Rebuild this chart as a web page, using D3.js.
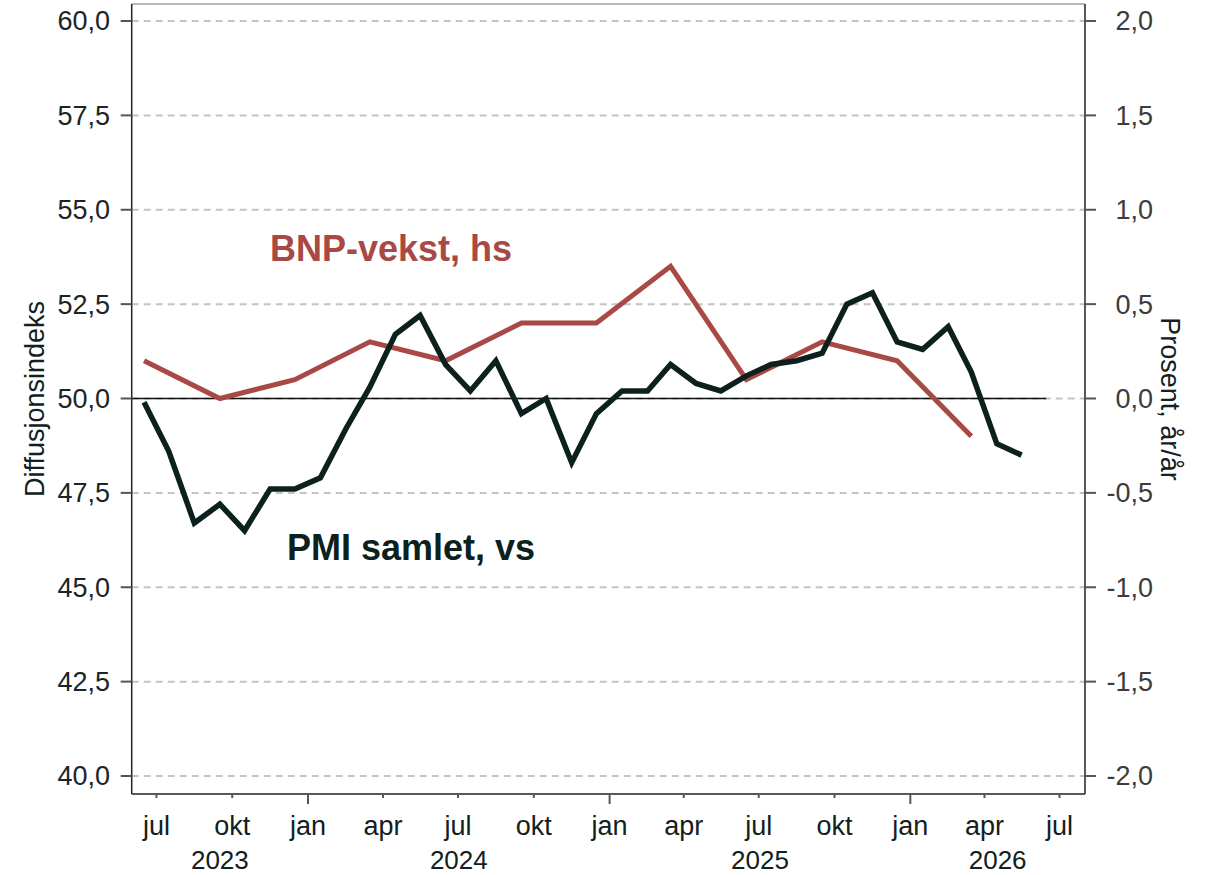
<!DOCTYPE html>
<html>
<head>
<meta charset="utf-8">
<script src="https://cdn.jsdelivr.net/npm/d3@7"></script>
<style>
  html, body { margin: 0; padding: 0; background: #fff; }
  svg { display: block; font-family: "Liberation Sans", Arial, sans-serif; }
</style>
</head>
<body>
<svg id="chart" width="1212" height="875"></svg>
<script>
// ---------------- data ----------------
const pmiDates = [
  "2023-06","2023-07","2023-08","2023-09","2023-10","2023-11","2023-12",
  "2024-01","2024-02","2024-03","2024-04","2024-05","2024-06","2024-07","2024-08","2024-09","2024-10","2024-11","2024-12",
  "2025-01","2025-02","2025-03","2025-04","2025-05","2025-06","2025-07","2025-08","2025-09","2025-10","2025-11","2025-12",
  "2026-01","2026-02","2026-03","2026-04","2026-05"
];
const pmiValues = [
  49.9, 48.6, 46.7, 47.2, 46.5, 47.6, 47.6,
  47.9, 49.2, 50.3, 51.7, 52.2, 50.9, 50.2, 51.0, 49.6, 50.0, 48.3, 49.6,
  50.2, 50.2, 50.9, 50.4, 50.2, 50.6, 50.9, 51.0, 51.2, 52.5, 52.8, 51.5,
  51.3, 51.9, 50.7, 48.8, 48.5
];
const gdpDates = ["2023-06","2023-09","2023-12","2024-03","2024-06","2024-09","2024-12","2025-03","2025-06","2025-09","2025-12","2026-03"];
const gdpValues = [0.2, 0.0, 0.1, 0.3, 0.2, 0.4, 0.4, 0.7, 0.1, 0.3, 0.2, -0.2];

const leftTicks = [40, 42.5, 45, 47.5, 50, 52.5, 55, 57.5, 60];
const rightTicks = [-2, -1.5, -1, -0.5, 0, 0.5, 1, 1.5, 2];
const monthNames = {0: "jan", 3: "apr", 6: "jul", 9: "okt"};
const years = [2023, 2024, 2025, 2026];
const xDomain = ["2023-06-01", "2026-08-01"];
const zeroLineEnd = "2026-06-15";

const leftTitle = "Diffusjonsindeks";
const rightTitle = "Prosent, år/år";
const pmiLabel = "PMI samlet, vs";
const gdpLabel = "BNP-vekst, hs";

// ---------------- layout ----------------
const L = 131.7, R = 1085, T = 4, B = 794;
const yTop = 21, yBot = 776;
const pmiColor = "#0c201d", gdpColor = "#a84946";
const fontSize = 27;

const parseMonth = s => { const [y, m] = s.split("-").map(Number); return new Date(y, m - 1, 16); };
const parseDay = s => { const [y, m, d] = s.split("-").map(Number); return new Date(y, m - 1, d); };

const x = d3.scaleTime().domain(xDomain.map(parseDay)).range([L, R]);
const yL = d3.scaleLinear().domain([40, 60]).range([yBot, yTop]);
const yR = d3.scaleLinear().domain([-2, 2]).range([yBot, yTop]);

const svg = d3.select("#chart");
const fmt = v => d3.format(".1f")(v).replace(".", ",").replace("−", "-");

// grid lines
svg.append("g").selectAll("line").data(leftTicks).join("line")
  .attr("x1", L).attr("x2", R)
  .attr("y1", d => yL(d)).attr("y2", d => yL(d))
  .attr("stroke", "#c4c4c4").attr("stroke-width", 2).attr("stroke-dasharray", "7,5");

// zero line
svg.append("line")
  .attr("x1", L).attr("x2", x(parseDay(zeroLineEnd)))
  .attr("y1", yL(50)).attr("y2", yL(50))
  .attr("stroke", "#111").attr("stroke-width", 1.6);

// frame
svg.append("line").attr("x1", L).attr("x2", R).attr("y1", T).attr("y2", T).attr("stroke", "#a0a0a0").attr("stroke-width", 1.5);
svg.append("line").attr("x1", L).attr("x2", R).attr("y1", B).attr("y2", B).attr("stroke", "#222").attr("stroke-width", 1.5);
svg.append("line").attr("x1", L).attr("x2", L).attr("y1", T).attr("y2", B).attr("stroke", "#222").attr("stroke-width", 1.5);
svg.append("line").attr("x1", R).attr("x2", R).attr("y1", T).attr("y2", B).attr("stroke", "#222").attr("stroke-width", 1.5);

// left axis ticks + labels
const gL = svg.append("g");
gL.selectAll("line").data(leftTicks).join("line")
  .attr("x1", L - 11).attr("x2", L).attr("y1", d => yL(d)).attr("y2", d => yL(d))
  .attr("stroke", "#555").attr("stroke-width", 2);
gL.selectAll("text").data(leftTicks).join("text")
  .attr("x", 110).attr("y", d => yL(d)).attr("dy", "0.35em")
  .attr("text-anchor", "end").attr("font-size", fontSize).attr("fill", "#1a2626")
  .text(fmt);

// right axis ticks + labels
const gR = svg.append("g");
gR.selectAll("line").data(rightTicks).join("line")
  .attr("x1", R).attr("x2", R + 11).attr("y1", d => yR(d)).attr("y2", d => yR(d))
  .attr("stroke", "#555").attr("stroke-width", 2);
gR.selectAll("text").data(rightTicks).join("text")
  .attr("x", 1153).attr("y", d => yR(d)).attr("dy", "0.35em")
  .attr("text-anchor", "end").attr("font-size", fontSize).attr("fill", "#3c3c3c")
  .text(fmt);

// x axis ticks (quarterly)
const qTicks = d3.timeMonth.every(3).range(parseDay(xDomain[0]), parseDay(xDomain[1]))
  .filter(d => d.getMonth() % 3 === 0);
const gX = svg.append("g");
gX.selectAll("line").data(qTicks).join("line")
  .attr("x1", d => x(d)).attr("x2", d => x(d))
  .attr("y1", B + 1).attr("y2", d => B + (d.getMonth() === 0 ? 10 : 4))
  .attr("stroke", "#555").attr("stroke-width", 2);
gX.selectAll("text").data(qTicks).join("text")
  .attr("x", d => x(d)).attr("y", 835)
  .attr("text-anchor", "middle").attr("font-size", fontSize).attr("fill", "#122020")
  .text(d => monthNames[d.getMonth()]);

// year labels centered on visible part of year
svg.append("g").selectAll("text").data(years).join("text")
  .attr("x", yr => {
    const a = Math.max(x(new Date(yr, 0, 1)), L);
    const b = Math.min(x(new Date(yr + 1, 0, 1)), R);
    return (a + b) / 2;
  })
  .attr("y", 869).attr("text-anchor", "middle").attr("font-size", 26).attr("fill", "#122020")
  .text(d => d);

// axis titles
svg.append("text")
  .attr("transform", `translate(44,${(T + B) / 2}) rotate(-90)`)
  .attr("text-anchor", "middle").attr("font-size", fontSize).attr("fill", "#122020")
  .text(leftTitle);
svg.append("text")
  .attr("transform", `translate(1161,${(T + B) / 2}) rotate(90)`)
  .attr("text-anchor", "middle").attr("font-size", fontSize).attr("fill", "#122020")
  .text(rightTitle);

// lines
const pmiData = pmiDates.map((d, i) => ({ date: parseMonth(d), v: pmiValues[i] }));
const gdpData = gdpDates.map((d, i) => ({ date: parseMonth(d), v: gdpValues[i] }));

svg.append("path").datum(gdpData)
  .attr("fill", "none").attr("stroke", gdpColor).attr("stroke-width", 5)
  .attr("d", d3.line().x(d => x(d.date)).y(d => yR(d.v)));
svg.append("path").datum(pmiData)
  .attr("fill", "none").attr("stroke", pmiColor).attr("stroke-width", 5.5)
  .attr("d", d3.line().x(d => x(d.date)).y(d => yL(d.v)));

// series labels
svg.append("text").attr("x", 270).attr("y", 261)
  .attr("font-size", 36).attr("font-weight", "bold").attr("fill", gdpColor).text(gdpLabel);
svg.append("text").attr("x", 287).attr("y", 560)
  .attr("font-size", 36).attr("font-weight", "bold").attr("fill", pmiColor).text(pmiLabel);
</script>
</body>
</html>
